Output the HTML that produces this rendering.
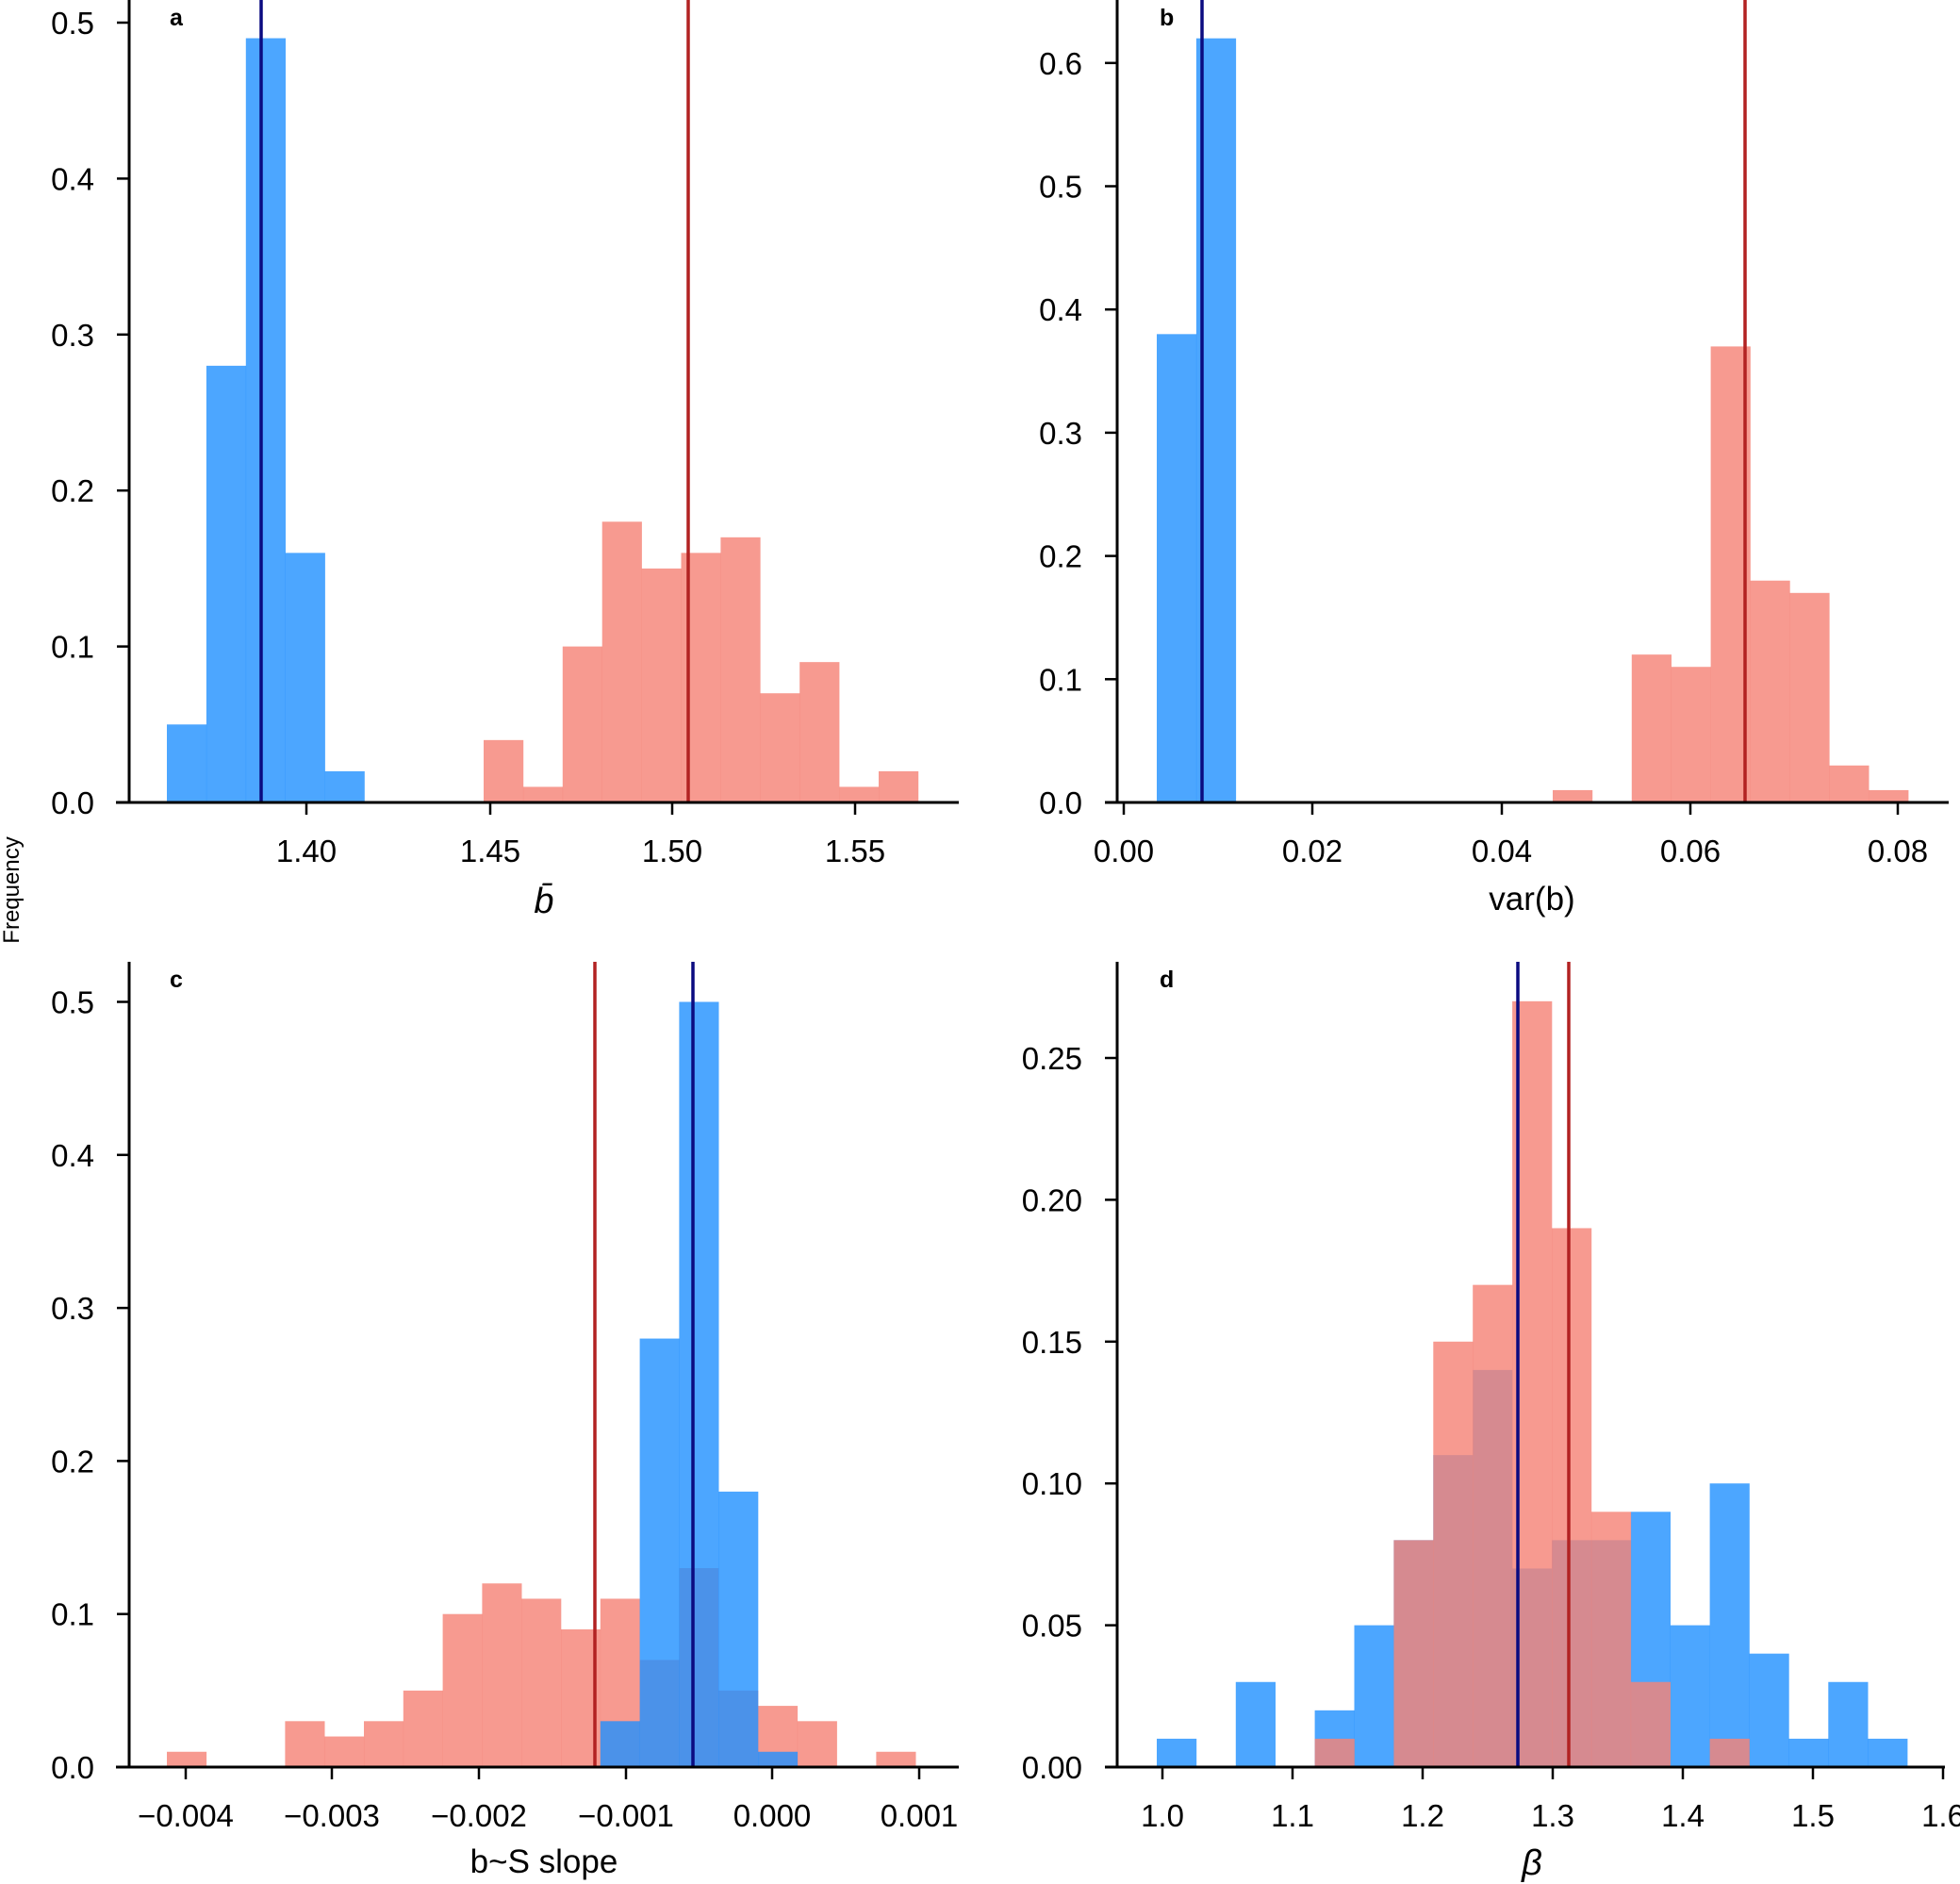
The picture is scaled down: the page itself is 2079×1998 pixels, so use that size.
<!DOCTYPE html>
<html><head><meta charset="utf-8"><style>
html,body{margin:0;padding:0;background:#fff;}
svg{display:block;font-family:"Liberation Sans",Arial,sans-serif;}
</style></head><body>
<svg id="s" width="2079" height="1998" viewBox="0 0 2079 1998" xmlns="http://www.w3.org/2000/svg"></svg>
<script>
const S=document.getElementById('s');let h='';
const BLUE='rgba(31,144,255,0.8)',RED='rgba(245,132,120,0.82)';
function panel(p){
 const yv=v=>p.y0-v*p.yk;
 let g='';
 const draw=(start,w,hs,col)=>{hs.forEach((v,i)=>{if(v>0){const x=start+i*w;g+=`<rect x="${x}" y="${yv(v)}" width="${w+0.3}" height="${v*p.yk}" fill="${col}"/>`;}});};
 p.order.forEach(o=>{if(o=='b')draw(p.bs,p.w,p.bh,BLUE);else draw(p.rs,p.w,p.rh,RED);});
 g+=`<line x1="${p.bl}" y1="${p.top}" x2="${p.bl}" y2="${p.y0}" stroke="#0b0b80" stroke-width="3.5"/>`;
 g+=`<line x1="${p.rl}" y1="${p.top}" x2="${p.rl}" y2="${p.y0}" stroke="#b22222" stroke-width="3.5"/>`;
 g+=`<line x1="${p.ax}" y1="${p.top}" x2="${p.ax}" y2="${p.y0+1.5}" stroke="#000" stroke-width="3"/>`;
 g+=`<line x1="${p.xl}" y1="${p.y0}" x2="${p.xr}" y2="${p.y0}" stroke="#000" stroke-width="3"/>`;
 p.yt.forEach(([v,t])=>{const y=yv(v);g+=`<line x1="${p.ax-13}" y1="${y}" x2="${p.ax}" y2="${y}" stroke="#000" stroke-width="2.5"/><text x="${p.ax-37}" y="${y+12}" font-size="33" text-anchor="end">${t}</text>`;});
 p.xt.forEach(([x,t])=>{g+=`<line x1="${x}" y1="${p.y0}" x2="${x}" y2="${p.y0+13}" stroke="#000" stroke-width="2.5"/><text x="${x}" y="${p.y0+63}" font-size="33" text-anchor="middle">${t}</text>`;});
 g+=`<text x="${p.lx}" y="${p.ly}" font-size="25" font-weight="bold">${p.lab}</text>`;
 g+=p.xlab;
 h+=g;
}
panel({y0:851,yk:1654,top:0,ax:137,xl:123,xr:1017,w:41.9,
 bs:177,bh:[.05,.28,.49,.16,.02],rs:513,rh:[.04,.01,.10,.18,.15,.16,.17,.07,.09,.01,.02],order:['b','r'],
 bl:277,rl:730,yt:[[0,'0.0'],[.1,'0.1'],[.2,'0.2'],[.3,'0.3'],[.4,'0.4'],[.5,'0.5']],
 xt:[[325,'1.40'],[520,'1.45'],[713,'1.50'],[907,'1.55']],lx:180,ly:27,lab:'a',
 xlab:`<text x="577" y="968" font-size="38" font-style="italic" text-anchor="middle">b̄</text>`});
panel({y0:851,yk:1307,top:0,ax:1185,xl:1172,xr:2067,w:41.9,
 bs:1227,bh:[.38,.62],rs:1647,rh:[.01,0,.12,.11,.37,.18,.17,.03,.01],order:['b','r'],
 bl:1275,rl:1851,yt:[[0,'0.0'],[.1,'0.1'],[.2,'0.2'],[.3,'0.3'],[.4,'0.4'],[.5,'0.5'],[.6,'0.6']],
 xt:[[1192,'0.00'],[1392,'0.02'],[1593,'0.04'],[1793,'0.06'],[2013,'0.08']],lx:1230,ly:27,lab:'b',
 xlab:`<text x="1625" y="965" font-size="35" text-anchor="middle">var(b)</text>`});
panel({y0:1874,yk:1623,top:1020,ax:137,xl:123,xr:1017,w:41.8,
 bs:177+11*41.8,bh:[.03,.28,.50,.18,.01],rs:177,rh:[.01,0,0,.03,.02,.03,.05,.10,.12,.11,.09,.11,.07,.13,.05,.04,.03,0,.01],order:['r','b'],
 bl:735,rl:631,yt:[[0,'0.0'],[.1,'0.1'],[.2,'0.2'],[.3,'0.3'],[.4,'0.4'],[.5,'0.5']],
 xt:[[197,'−0.004'],[352,'−0.003'],[508,'−0.002'],[664,'−0.001'],[819,'0.000'],[975,'0.001']],lx:180,ly:1047,lab:'c',
 xlab:`<text x="577" y="1986" font-size="35" text-anchor="middle">b~S slope</text>`});
panel({y0:1874,yk:3008,top:1020,ax:1185,xl:1172,xr:2063,w:41.9,
 bs:1227,bh:[.01,0,.03,0,.02,.05,.08,.11,.14,.07,.08,.08,.09,.05,.10,.04,.01,.03,.01],
 rs:1227,rh:[0,0,0,0,.01,0,.08,.15,.17,.27,.19,.09,.03,0,.01],order:['b','r'],
 bl:1610,rl:1664,yt:[[0,'0.00'],[.05,'0.05'],[.10,'0.10'],[.15,'0.15'],[.20,'0.20'],[.25,'0.25']],
 xt:[[1233,'1.0'],[1371,'1.1'],[1509,'1.2'],[1647,'1.3'],[1785,'1.4'],[1923,'1.5'],[2061,'1.6']],lx:1230,ly:1047,lab:'d',
 xlab:`<text x="1625" y="1988" font-size="38" font-style="italic" text-anchor="middle">β</text>`});
h+=`<text transform="translate(20,944) rotate(-90)" font-size="24" text-anchor="middle">Frequency</text>`;
S.innerHTML=h;
</script>
</body></html>
